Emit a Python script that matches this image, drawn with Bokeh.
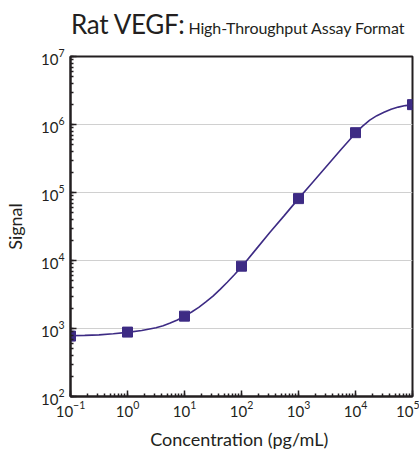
from bokeh.plotting import figure
from bokeh.models import LogTicker, Div
from bokeh.layouts import column
from bokeh.embed import file_html
from bokeh.resources import INLINE

# Measured standards (markers)
conc = [0.1, 1, 10, 100, 1000, 10000, 100000]
signal = [773, 885, 1520, 8250, 81300, 758000, 1960000]

# Fitted curve
curve_conc = [0.1, 0.1778, 0.3162, 0.5623, 1, 1.778, 3.162, 4.217, 5.623, 7.499, 10,
              13.34, 17.78, 23.71, 31.62, 42.17, 56.23, 74.99, 100, 177.8, 316.2, 562.3,
              1000, 1778, 3162, 5623, 7499, 10000, 13340, 17780, 23710, 31620, 42170,
              56230, 74990, 100000]
curve_signal = [782, 793, 807, 836, 877, 933, 1023, 1096, 1202, 1334, 1520,
                1750, 2042, 2455, 2992, 3758, 4786, 6166, 8054, 14450, 26060, 45710,
                81280, 141300, 246600, 431500, 568900, 748200, 944100, 1161000, 1349000,
                1514000, 1679000, 1803000, 1897000, 1954000]

title_main = "Rat VEGF:"
title_sub = "High-Throughput Assay Format"
x_label = "Concentration  (pg/mL)"
y_label = "Signal"

FONT = "Lato"
COLOR = "#3d2b84"
INK = "#231f20"

title = Div(
    text=(f"<span style='font-size:26px;letter-spacing:-0.3px'>{title_main}</span>"
          f"<span style='font-size:16px;letter-spacing:-0.1px'>&nbsp;{title_sub}</span>"),
    width=419, height=46, margin=0,
    styles={"font-family": FONT, "color": INK, "padding-left": "71px",
            "padding-top": "9px", "white-space": "nowrap", "line-height": "30px"})

p = figure(width=419, height=407, x_axis_type="log", y_axis_type="log",
           x_range=(0.1, 100000), y_range=(100, 10000000),
           output_backend="svg", toolbar_location=None, margin=0,
           min_border_left=70, min_border_right=7, min_border_top=10, min_border_bottom=57)

p.background_fill_color = "white"
p.border_fill_color = "white"
p.outline_line_color = INK
p.outline_line_width = 2

p.xgrid.visible = False
p.ygrid.grid_line_color = "#d0d0d0"
p.ygrid.grid_line_width = 1

for ax in (p.xaxis[0], p.yaxis[0]):
    ax.axis_line_color = INK
    ax.axis_line_width = 2
    ax.major_tick_in = 6
    ax.major_tick_out = 0
    ax.minor_tick_in = 3
    ax.minor_tick_out = 0
    ax.major_tick_line_color = INK
    ax.minor_tick_line_color = INK
    ax.major_tick_line_width = 1.5
    ax.minor_tick_line_width = 1.5
    ax.major_label_text_font = FONT
    ax.major_label_text_font_size = "15px"
    ax.major_label_text_color = INK
    ax.axis_label_text_font = FONT
    ax.axis_label_text_font_size = "18px"
    ax.axis_label_text_font_style = "normal"
    ax.axis_label_text_color = INK

p.xaxis.ticker = LogTicker(desired_num_ticks=7, num_minor_ticks=10)
p.yaxis.ticker = LogTicker(desired_num_ticks=6, num_minor_ticks=10)
p.xaxis.axis_label = x_label
p.yaxis.axis_label = y_label
p.xaxis.major_label_standoff = 4
p.yaxis.major_label_standoff = 6
p.xaxis.axis_label_standoff = 8
p.yaxis.axis_label_standoff = 12

p.line(curve_conc, curve_signal, line_color=COLOR, line_width=1.6)
p.scatter(conc, signal, marker="square", size=10, fill_color=COLOR, line_color=COLOR)

layout = column(title, p, spacing=0, margin=0)

open("out.html", "w").write(file_html(layout, INLINE))
